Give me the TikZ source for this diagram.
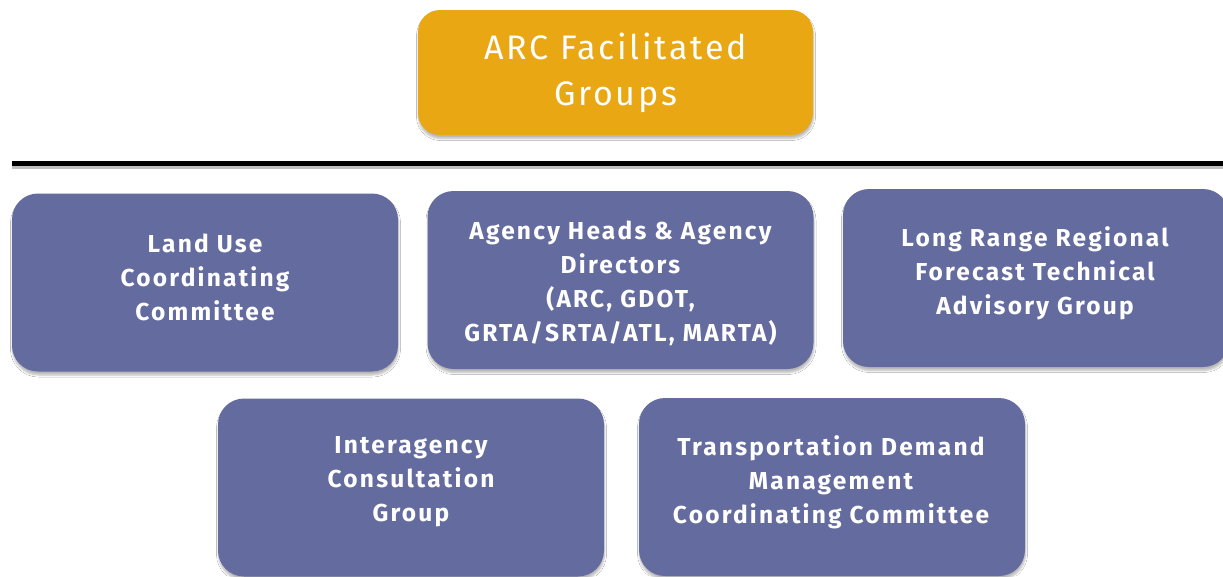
\documentclass[tikz,border=0pt]{standalone}
\usepackage{fontspec}
\setmainfont{Fira Sans}
\newfontfamily\grpfont{Fira Sans}[LetterSpace=9]
\newfontfamily\topfont{Fira Sans}[LetterSpace=8]
\usetikzlibrary{shadows.blur}
\definecolor{arcgold}{HTML}{E8A713}
\definecolor{grpblue}{HTML}{646B9E}
\tikzset{
  shade/.style={blur shadow={shadow xshift=0.5pt, shadow yshift=-3.5pt, shadow opacity=28, shadow blur steps=6, shadow blur radius=2pt}},
  topbox/.style={fill=arcgold, draw=none, rounded corners=22pt, minimum width=395pt, minimum height=125pt, inner sep=0pt, shade},
  grpbox/.style={fill=grpblue, draw=none, rounded corners=26pt, minimum width=386pt, minimum height=178pt, inner sep=0pt, shade},
  toptext/.style={text=white, font=\topfont\fontsize{34}{46}\selectfont, align=center, inner sep=0pt},
  grptext/.style={text=white, font=\grpfont\bfseries\fontsize{24.5}{34}\selectfont, align=center, inner sep=0pt},
}
\begin{document}
\begin{tikzpicture}[x=1pt,y=-1pt]
\useasboundingbox (0,0) rectangle (1223,576);
\clip (0,0) rectangle (1223,576);
\fill[white] (0,0) rectangle (1223,576);
\node[topbox] (top) at (615.5,72.5) {};
\node[toptext] (toplabel) at (615.5,73) {ARC Facilitated\\Groups};
\coordinate (lineL) at (12,163.5);
\coordinate (lineR) at (1230,163.5);
\draw[black!25, line width=3pt] ([yshift=-4pt]lineL) -- ([yshift=-4pt]lineR);
\draw[black, line width=5pt] (lineL) -- (lineR);
\node[grpbox] (b1) at (205,282.5) {};
\node[grptext] (t1) at (205,277) {Land Use\\Coordinating\\Committee};
\node[grpbox] (b2) at (620.5,280) {};
\node[grptext] (t2) at (620.5,283) {Agency Heads \& Agency\\Directors\\(ARC, GDOT,\\GRTA/SRTA/ATL, MARTA)};
\node[grpbox] (b3) at (1036,278) {};
\node[grptext] (t3) at (1035,273) {Long Range Regional\\Forecast Technical\\Advisory Group};
\node[grpbox] (b4) at (411,487.5) {};
\node[grptext] (t4) at (411,482) {Interagency\\Consultation\\Group};
\node[grpbox] (b5) at (832,487) {};
\node[grptext] (t5) at (831,482) {Transportation Demand\\Management\\Coordinating Committee};
\end{tikzpicture}
\end{document}
